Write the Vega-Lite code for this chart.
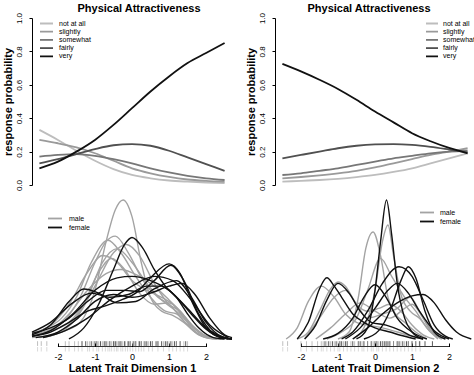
{
"$schema":"https://vega.github.io/schema/vega-lite/v6.json",
"padding":{"left":2,"top":2,"right":0,"bottom":0},
"config":{"font":"Liberation Sans","view":{"stroke":null},
 "axis":{"labelFont":"Liberation Sans","titleFont":"Liberation Sans","labelColor":"#000","titleColor":"#000","domainColor":"#000","tickColor":"#000","grid":false,"labelFlush":false,"labelOverlap":false},
 "title":{"font":"Liberation Sans","fontSize":11,"fontWeight":"bold","color":"#000"},
 "legend":{"labelFont":"Liberation Sans","labelColor":"#000","padding":0}},
"datasets":{
"prob":[
{"dim":1,"category":"not at all","x":-2.5,"p":0.33},{"dim":1,"category":"not at all","x":-2,"p":0.27},{"dim":1,"category":"not at all","x":-1.5,"p":0.205},{"dim":1,"category":"not at all","x":-1,"p":0.145},{"dim":1,"category":"not at all","x":-0.5,"p":0.095},{"dim":1,"category":"not at all","x":0,"p":0.06},{"dim":1,"category":"not at all","x":0.5,"p":0.04},{"dim":1,"category":"not at all","x":1,"p":0.027},{"dim":1,"category":"not at all","x":1.5,"p":0.02},{"dim":1,"category":"not at all","x":2,"p":0.015},{"dim":1,"category":"not at all","x":2.5,"p":0.012},
{"dim":1,"category":"slightly","x":-2.5,"p":0.27},{"dim":1,"category":"slightly","x":-2,"p":0.25},{"dim":1,"category":"slightly","x":-1.5,"p":0.225},{"dim":1,"category":"slightly","x":-1,"p":0.19},{"dim":1,"category":"slightly","x":-0.5,"p":0.145},{"dim":1,"category":"slightly","x":0,"p":0.1},{"dim":1,"category":"slightly","x":0.5,"p":0.07},{"dim":1,"category":"slightly","x":1,"p":0.048},{"dim":1,"category":"slightly","x":1.5,"p":0.033},{"dim":1,"category":"slightly","x":2,"p":0.025},{"dim":1,"category":"slightly","x":2.5,"p":0.02},
{"dim":1,"category":"somewhat","x":-2.5,"p":0.17},{"dim":1,"category":"somewhat","x":-2,"p":0.18},{"dim":1,"category":"somewhat","x":-1.5,"p":0.185},{"dim":1,"category":"somewhat","x":-1,"p":0.175},{"dim":1,"category":"somewhat","x":-0.5,"p":0.155},{"dim":1,"category":"somewhat","x":0,"p":0.13},{"dim":1,"category":"somewhat","x":0.5,"p":0.1},{"dim":1,"category":"somewhat","x":1,"p":0.075},{"dim":1,"category":"somewhat","x":1.5,"p":0.055},{"dim":1,"category":"somewhat","x":2,"p":0.04},{"dim":1,"category":"somewhat","x":2.5,"p":0.03},
{"dim":1,"category":"fairly","x":-2.5,"p":0.13},{"dim":1,"category":"fairly","x":-2,"p":0.155},{"dim":1,"category":"fairly","x":-1.5,"p":0.185},{"dim":1,"category":"fairly","x":-1,"p":0.215},{"dim":1,"category":"fairly","x":-0.5,"p":0.238},{"dim":1,"category":"fairly","x":0,"p":0.245},{"dim":1,"category":"fairly","x":0.5,"p":0.235},{"dim":1,"category":"fairly","x":1,"p":0.205},{"dim":1,"category":"fairly","x":1.5,"p":0.165},{"dim":1,"category":"fairly","x":2,"p":0.125},{"dim":1,"category":"fairly","x":2.5,"p":0.085},
{"dim":1,"category":"very","x":-2.5,"p":0.1},{"dim":1,"category":"very","x":-2,"p":0.14},{"dim":1,"category":"very","x":-1.5,"p":0.2},{"dim":1,"category":"very","x":-1,"p":0.27},{"dim":1,"category":"very","x":-0.5,"p":0.36},{"dim":1,"category":"very","x":0,"p":0.46},{"dim":1,"category":"very","x":0.5,"p":0.56},{"dim":1,"category":"very","x":1,"p":0.65},{"dim":1,"category":"very","x":1.5,"p":0.73},{"dim":1,"category":"very","x":2,"p":0.79},{"dim":1,"category":"very","x":2.5,"p":0.85},
{"dim":2,"category":"not at all","x":-2.5,"p":0.02},{"dim":2,"category":"not at all","x":-2,"p":0.025},{"dim":2,"category":"not at all","x":-1.5,"p":0.03},{"dim":2,"category":"not at all","x":-1,"p":0.037},{"dim":2,"category":"not at all","x":-0.5,"p":0.047},{"dim":2,"category":"not at all","x":0,"p":0.06},{"dim":2,"category":"not at all","x":0.5,"p":0.078},{"dim":2,"category":"not at all","x":1,"p":0.1},{"dim":2,"category":"not at all","x":1.5,"p":0.13},{"dim":2,"category":"not at all","x":2,"p":0.16},{"dim":2,"category":"not at all","x":2.5,"p":0.19},
{"dim":2,"category":"slightly","x":-2.5,"p":0.04},{"dim":2,"category":"slightly","x":-2,"p":0.048},{"dim":2,"category":"slightly","x":-1.5,"p":0.058},{"dim":2,"category":"slightly","x":-1,"p":0.07},{"dim":2,"category":"slightly","x":-0.5,"p":0.085},{"dim":2,"category":"slightly","x":0,"p":0.105},{"dim":2,"category":"slightly","x":0.5,"p":0.13},{"dim":2,"category":"slightly","x":1,"p":0.155},{"dim":2,"category":"slightly","x":1.5,"p":0.18},{"dim":2,"category":"slightly","x":2,"p":0.2},{"dim":2,"category":"slightly","x":2.5,"p":0.22},
{"dim":2,"category":"somewhat","x":-2.5,"p":0.06},{"dim":2,"category":"somewhat","x":-2,"p":0.07},{"dim":2,"category":"somewhat","x":-1.5,"p":0.085},{"dim":2,"category":"somewhat","x":-1,"p":0.1},{"dim":2,"category":"somewhat","x":-0.5,"p":0.12},{"dim":2,"category":"somewhat","x":0,"p":0.14},{"dim":2,"category":"somewhat","x":0.5,"p":0.16},{"dim":2,"category":"somewhat","x":1,"p":0.175},{"dim":2,"category":"somewhat","x":1.5,"p":0.19},{"dim":2,"category":"somewhat","x":2,"p":0.2},{"dim":2,"category":"somewhat","x":2.5,"p":0.205},
{"dim":2,"category":"fairly","x":-2.5,"p":0.16},{"dim":2,"category":"fairly","x":-2,"p":0.18},{"dim":2,"category":"fairly","x":-1.5,"p":0.2},{"dim":2,"category":"fairly","x":-1,"p":0.22},{"dim":2,"category":"fairly","x":-0.5,"p":0.235},{"dim":2,"category":"fairly","x":0,"p":0.243},{"dim":2,"category":"fairly","x":0.5,"p":0.245},{"dim":2,"category":"fairly","x":1,"p":0.24},{"dim":2,"category":"fairly","x":1.5,"p":0.228},{"dim":2,"category":"fairly","x":2,"p":0.212},{"dim":2,"category":"fairly","x":2.5,"p":0.195},
{"dim":2,"category":"very","x":-2.5,"p":0.725},{"dim":2,"category":"very","x":-2,"p":0.68},{"dim":2,"category":"very","x":-1.5,"p":0.63},{"dim":2,"category":"very","x":-1,"p":0.575},{"dim":2,"category":"very","x":-0.5,"p":0.51},{"dim":2,"category":"very","x":0,"p":0.44},{"dim":2,"category":"very","x":0.5,"p":0.375},{"dim":2,"category":"very","x":1,"p":0.31},{"dim":2,"category":"very","x":1.5,"p":0.262},{"dim":2,"category":"very","x":2,"p":0.222},{"dim":2,"category":"very","x":2.5,"p":0.19}
],
"dens":[
{"dim":1,"sex":"male","curve":"m1","x":-2.7,"y":0.01},{"dim":1,"sex":"male","curve":"m1","x":-2.2,"y":0.03},{"dim":1,"sex":"male","curve":"m1","x":-1.8,"y":0.06},{"dim":1,"sex":"male","curve":"m1","x":-1.4,"y":0.12},{"dim":1,"sex":"male","curve":"m1","x":-1.0,"y":0.35},{"dim":1,"sex":"male","curve":"m1","x":-0.7,"y":0.7},{"dim":1,"sex":"male","curve":"m1","x":-0.45,"y":0.93},{"dim":1,"sex":"male","curve":"m1","x":-0.24,"y":1.0},{"dim":1,"sex":"male","curve":"m1","x":0,"y":0.88},{"dim":1,"sex":"male","curve":"m1","x":0.25,"y":0.55},{"dim":1,"sex":"male","curve":"m1","x":0.5,"y":0.3},{"dim":1,"sex":"male","curve":"m1","x":0.8,"y":0.2},{"dim":1,"sex":"male","curve":"m1","x":1.1,"y":0.17},{"dim":1,"sex":"male","curve":"m1","x":1.4,"y":0.12},{"dim":1,"sex":"male","curve":"m1","x":1.8,"y":0.03},{"dim":1,"sex":"male","curve":"m1","x":2.2,"y":0},
{"dim":1,"sex":"male","curve":"m2","x":-2.7,"y":0.03},{"dim":1,"sex":"male","curve":"m2","x":-2.2,"y":0.07},{"dim":1,"sex":"male","curve":"m2","x":-1.8,"y":0.14},{"dim":1,"sex":"male","curve":"m2","x":-1.4,"y":0.3},{"dim":1,"sex":"male","curve":"m2","x":-1.0,"y":0.55},{"dim":1,"sex":"male","curve":"m2","x":-0.7,"y":0.7},{"dim":1,"sex":"male","curve":"m2","x":-0.45,"y":0.74},{"dim":1,"sex":"male","curve":"m2","x":-0.1,"y":0.62},{"dim":1,"sex":"male","curve":"m2","x":0.3,"y":0.42},{"dim":1,"sex":"male","curve":"m2","x":0.7,"y":0.3},{"dim":1,"sex":"male","curve":"m2","x":1.0,"y":0.25},{"dim":1,"sex":"male","curve":"m2","x":1.3,"y":0.16},{"dim":1,"sex":"male","curve":"m2","x":1.7,"y":0.05},{"dim":1,"sex":"male","curve":"m2","x":2.1,"y":0.01},{"dim":1,"sex":"male","curve":"m2","x":2.5,"y":0},
{"dim":1,"sex":"male","curve":"m3","x":-2.7,"y":0.04},{"dim":1,"sex":"male","curve":"m3","x":-2.3,"y":0.08},{"dim":1,"sex":"male","curve":"m3","x":-1.9,"y":0.15},{"dim":1,"sex":"male","curve":"m3","x":-1.5,"y":0.3},{"dim":1,"sex":"male","curve":"m3","x":-1.1,"y":0.55},{"dim":1,"sex":"male","curve":"m3","x":-0.65,"y":0.71},{"dim":1,"sex":"male","curve":"m3","x":-0.3,"y":0.62},{"dim":1,"sex":"male","curve":"m3","x":0.1,"y":0.45},{"dim":1,"sex":"male","curve":"m3","x":0.5,"y":0.3},{"dim":1,"sex":"male","curve":"m3","x":0.9,"y":0.2},{"dim":1,"sex":"male","curve":"m3","x":1.2,"y":0.18},{"dim":1,"sex":"male","curve":"m3","x":1.5,"y":0.1},{"dim":1,"sex":"male","curve":"m3","x":1.9,"y":0.02},{"dim":1,"sex":"male","curve":"m3","x":2.3,"y":0},
{"dim":1,"sex":"male","curve":"m4","x":-2.5,"y":0.01},{"dim":1,"sex":"male","curve":"m4","x":-2.0,"y":0.04},{"dim":1,"sex":"male","curve":"m4","x":-1.5,"y":0.15},{"dim":1,"sex":"male","curve":"m4","x":-1.0,"y":0.38},{"dim":1,"sex":"male","curve":"m4","x":-0.5,"y":0.62},{"dim":1,"sex":"male","curve":"m4","x":-0.15,"y":0.68},{"dim":1,"sex":"male","curve":"m4","x":0.2,"y":0.6},{"dim":1,"sex":"male","curve":"m4","x":0.6,"y":0.4},{"dim":1,"sex":"male","curve":"m4","x":1.0,"y":0.25},{"dim":1,"sex":"male","curve":"m4","x":1.3,"y":0.2},{"dim":1,"sex":"male","curve":"m4","x":1.6,"y":0.1},{"dim":1,"sex":"male","curve":"m4","x":2.0,"y":0.02},{"dim":1,"sex":"male","curve":"m4","x":2.4,"y":0},
{"dim":1,"sex":"male","curve":"m5","x":-2.7,"y":0.04},{"dim":1,"sex":"male","curve":"m5","x":-2.2,"y":0.1},{"dim":1,"sex":"male","curve":"m5","x":-1.7,"y":0.25},{"dim":1,"sex":"male","curve":"m5","x":-1.2,"y":0.48},{"dim":1,"sex":"male","curve":"m5","x":-0.8,"y":0.6},{"dim":1,"sex":"male","curve":"m5","x":-0.4,"y":0.55},{"dim":1,"sex":"male","curve":"m5","x":0,"y":0.42},{"dim":1,"sex":"male","curve":"m5","x":0.4,"y":0.35},{"dim":1,"sex":"male","curve":"m5","x":0.8,"y":0.3},{"dim":1,"sex":"male","curve":"m5","x":1.1,"y":0.25},{"dim":1,"sex":"male","curve":"m5","x":1.5,"y":0.12},{"dim":1,"sex":"male","curve":"m5","x":1.9,"y":0.03},{"dim":1,"sex":"male","curve":"m5","x":2.3,"y":0},
{"dim":1,"sex":"male","curve":"m6","x":-2.7,"y":0.02},{"dim":1,"sex":"male","curve":"m6","x":-2.2,"y":0.06},{"dim":1,"sex":"male","curve":"m6","x":-1.7,"y":0.18},{"dim":1,"sex":"male","curve":"m6","x":-1.2,"y":0.35},{"dim":1,"sex":"male","curve":"m6","x":-0.7,"y":0.47},{"dim":1,"sex":"male","curve":"m6","x":-0.3,"y":0.5},{"dim":1,"sex":"male","curve":"m6","x":0.2,"y":0.45},{"dim":1,"sex":"male","curve":"m6","x":0.6,"y":0.38},{"dim":1,"sex":"male","curve":"m6","x":1.0,"y":0.28},{"dim":1,"sex":"male","curve":"m6","x":1.3,"y":0.2},{"dim":1,"sex":"male","curve":"m6","x":1.7,"y":0.08},{"dim":1,"sex":"male","curve":"m6","x":2.1,"y":0.01},{"dim":1,"sex":"male","curve":"m6","x":2.4,"y":0},
{"dim":1,"sex":"male","curve":"m7","x":-2.4,"y":0.01},{"dim":1,"sex":"male","curve":"m7","x":-1.9,"y":0.06},{"dim":1,"sex":"male","curve":"m7","x":-1.4,"y":0.2},{"dim":1,"sex":"male","curve":"m7","x":-0.9,"y":0.48},{"dim":1,"sex":"male","curve":"m7","x":-0.55,"y":0.58},{"dim":1,"sex":"male","curve":"m7","x":-0.2,"y":0.5},{"dim":1,"sex":"male","curve":"m7","x":0.2,"y":0.33},{"dim":1,"sex":"male","curve":"m7","x":0.6,"y":0.25},{"dim":1,"sex":"male","curve":"m7","x":1.0,"y":0.26},{"dim":1,"sex":"male","curve":"m7","x":1.3,"y":0.2},{"dim":1,"sex":"male","curve":"m7","x":1.6,"y":0.08},{"dim":1,"sex":"male","curve":"m7","x":2.0,"y":0.01},{"dim":1,"sex":"male","curve":"m7","x":2.3,"y":0},
{"dim":1,"sex":"male","curve":"m8","x":-2.7,"y":0.03},{"dim":1,"sex":"male","curve":"m8","x":-2.2,"y":0.06},{"dim":1,"sex":"male","curve":"m8","x":-1.7,"y":0.12},{"dim":1,"sex":"male","curve":"m8","x":-1.2,"y":0.3},{"dim":1,"sex":"male","curve":"m8","x":-0.8,"y":0.55},{"dim":1,"sex":"male","curve":"m8","x":-0.4,"y":0.65},{"dim":1,"sex":"male","curve":"m8","x":0,"y":0.55},{"dim":1,"sex":"male","curve":"m8","x":0.4,"y":0.4},{"dim":1,"sex":"male","curve":"m8","x":0.8,"y":0.28},{"dim":1,"sex":"male","curve":"m8","x":1.2,"y":0.2},{"dim":1,"sex":"male","curve":"m8","x":1.6,"y":0.1},{"dim":1,"sex":"male","curve":"m8","x":2.0,"y":0.02},{"dim":1,"sex":"male","curve":"m8","x":2.4,"y":0},
{"dim":1,"sex":"female","curve":"f1","x":-1.7,"y":0},{"dim":1,"sex":"female","curve":"f1","x":-1.3,"y":0.08},{"dim":1,"sex":"female","curve":"f1","x":-0.9,"y":0.25},{"dim":1,"sex":"female","curve":"f1","x":-0.5,"y":0.5},{"dim":1,"sex":"female","curve":"f1","x":-0.2,"y":0.68},{"dim":1,"sex":"female","curve":"f1","x":0,"y":0.73},{"dim":1,"sex":"female","curve":"f1","x":0.3,"y":0.65},{"dim":1,"sex":"female","curve":"f1","x":0.6,"y":0.5},{"dim":1,"sex":"female","curve":"f1","x":0.9,"y":0.38},{"dim":1,"sex":"female","curve":"f1","x":1.2,"y":0.3},{"dim":1,"sex":"female","curve":"f1","x":1.5,"y":0.18},{"dim":1,"sex":"female","curve":"f1","x":1.8,"y":0.08},{"dim":1,"sex":"female","curve":"f1","x":2.2,"y":0.01},{"dim":1,"sex":"female","curve":"f1","x":2.5,"y":0},
{"dim":1,"sex":"female","curve":"f2","x":-2.7,"y":0.02},{"dim":1,"sex":"female","curve":"f2","x":-2.2,"y":0.05},{"dim":1,"sex":"female","curve":"f2","x":-1.7,"y":0.12},{"dim":1,"sex":"female","curve":"f2","x":-1.2,"y":0.2},{"dim":1,"sex":"female","curve":"f2","x":-0.7,"y":0.24},{"dim":1,"sex":"female","curve":"f2","x":-0.3,"y":0.28},{"dim":1,"sex":"female","curve":"f2","x":0.1,"y":0.33},{"dim":1,"sex":"female","curve":"f2","x":0.5,"y":0.44},{"dim":1,"sex":"female","curve":"f2","x":1.0,"y":0.54},{"dim":1,"sex":"female","curve":"f2","x":1.3,"y":0.47},{"dim":1,"sex":"female","curve":"f2","x":1.6,"y":0.28},{"dim":1,"sex":"female","curve":"f2","x":2.0,"y":0.08},{"dim":1,"sex":"female","curve":"f2","x":2.4,"y":0.01},{"dim":1,"sex":"female","curve":"f2","x":2.7,"y":0},
{"dim":1,"sex":"female","curve":"f3","x":-2.7,"y":0.04},{"dim":1,"sex":"female","curve":"f3","x":-2.2,"y":0.08},{"dim":1,"sex":"female","curve":"f3","x":-1.7,"y":0.15},{"dim":1,"sex":"female","curve":"f3","x":-1.2,"y":0.27},{"dim":1,"sex":"female","curve":"f3","x":-0.7,"y":0.35},{"dim":1,"sex":"female","curve":"f3","x":-0.2,"y":0.35},{"dim":1,"sex":"female","curve":"f3","x":0.2,"y":0.34},{"dim":1,"sex":"female","curve":"f3","x":0.6,"y":0.42},{"dim":1,"sex":"female","curve":"f3","x":1.05,"y":0.53},{"dim":1,"sex":"female","curve":"f3","x":1.4,"y":0.42},{"dim":1,"sex":"female","curve":"f3","x":1.8,"y":0.18},{"dim":1,"sex":"female","curve":"f3","x":2.2,"y":0.04},{"dim":1,"sex":"female","curve":"f3","x":2.6,"y":0},
{"dim":1,"sex":"female","curve":"f4","x":-2.7,"y":0.03},{"dim":1,"sex":"female","curve":"f4","x":-2.2,"y":0.1},{"dim":1,"sex":"female","curve":"f4","x":-1.7,"y":0.27},{"dim":1,"sex":"female","curve":"f4","x":-1.3,"y":0.36},{"dim":1,"sex":"female","curve":"f4","x":-0.9,"y":0.33},{"dim":1,"sex":"female","curve":"f4","x":-0.4,"y":0.26},{"dim":1,"sex":"female","curve":"f4","x":0.1,"y":0.27},{"dim":1,"sex":"female","curve":"f4","x":0.6,"y":0.36},{"dim":1,"sex":"female","curve":"f4","x":1.2,"y":0.42},{"dim":1,"sex":"female","curve":"f4","x":1.6,"y":0.3},{"dim":1,"sex":"female","curve":"f4","x":2.0,"y":0.12},{"dim":1,"sex":"female","curve":"f4","x":2.4,"y":0.02},{"dim":1,"sex":"female","curve":"f4","x":2.7,"y":0},
{"dim":1,"sex":"female","curve":"f5","x":-2.7,"y":0.02},{"dim":1,"sex":"female","curve":"f5","x":-2.2,"y":0.06},{"dim":1,"sex":"female","curve":"f5","x":-1.6,"y":0.18},{"dim":1,"sex":"female","curve":"f5","x":-1.0,"y":0.35},{"dim":1,"sex":"female","curve":"f5","x":-0.4,"y":0.44},{"dim":1,"sex":"female","curve":"f5","x":0,"y":0.45},{"dim":1,"sex":"female","curve":"f5","x":0.5,"y":0.42},{"dim":1,"sex":"female","curve":"f5","x":1.0,"y":0.35},{"dim":1,"sex":"female","curve":"f5","x":1.5,"y":0.22},{"dim":1,"sex":"female","curve":"f5","x":2.0,"y":0.08},{"dim":1,"sex":"female","curve":"f5","x":2.5,"y":0.01},{"dim":1,"sex":"female","curve":"f5","x":2.7,"y":0},
{"dim":1,"sex":"female","curve":"f6","x":-2.6,"y":0.01},{"dim":1,"sex":"female","curve":"f6","x":-2.0,"y":0.05},{"dim":1,"sex":"female","curve":"f6","x":-1.5,"y":0.14},{"dim":1,"sex":"female","curve":"f6","x":-1.0,"y":0.27},{"dim":1,"sex":"female","curve":"f6","x":-0.5,"y":0.32},{"dim":1,"sex":"female","curve":"f6","x":0,"y":0.3},{"dim":1,"sex":"female","curve":"f6","x":0.5,"y":0.33},{"dim":1,"sex":"female","curve":"f6","x":1.0,"y":0.38},{"dim":1,"sex":"female","curve":"f6","x":1.35,"y":0.4},{"dim":1,"sex":"female","curve":"f6","x":1.7,"y":0.32},{"dim":1,"sex":"female","curve":"f6","x":2.1,"y":0.15},{"dim":1,"sex":"female","curve":"f6","x":2.5,"y":0.03},{"dim":1,"sex":"female","curve":"f6","x":2.7,"y":0.01},
{"dim":1,"sex":"female","curve":"f7","x":-2.7,"y":0.05},{"dim":1,"sex":"female","curve":"f7","x":-2.2,"y":0.12},{"dim":1,"sex":"female","curve":"f7","x":-1.6,"y":0.26},{"dim":1,"sex":"female","curve":"f7","x":-1.1,"y":0.33},{"dim":1,"sex":"female","curve":"f7","x":-0.6,"y":0.3},{"dim":1,"sex":"female","curve":"f7","x":-0.1,"y":0.32},{"dim":1,"sex":"female","curve":"f7","x":0.4,"y":0.38},{"dim":1,"sex":"female","curve":"f7","x":0.8,"y":0.38},{"dim":1,"sex":"female","curve":"f7","x":1.2,"y":0.3},{"dim":1,"sex":"female","curve":"f7","x":1.6,"y":0.18},{"dim":1,"sex":"female","curve":"f7","x":2.0,"y":0.07},{"dim":1,"sex":"female","curve":"f7","x":2.4,"y":0.01},{"dim":1,"sex":"female","curve":"f7","x":2.7,"y":0},
{"dim":1,"sex":"female","curve":"f8","x":-2.4,"y":0.01},{"dim":1,"sex":"female","curve":"f8","x":-1.8,"y":0.06},{"dim":1,"sex":"female","curve":"f8","x":-1.2,"y":0.15},{"dim":1,"sex":"female","curve":"f8","x":-0.6,"y":0.28},{"dim":1,"sex":"female","curve":"f8","x":0,"y":0.38},{"dim":1,"sex":"female","curve":"f8","x":0.6,"y":0.45},{"dim":1,"sex":"female","curve":"f8","x":1.1,"y":0.42},{"dim":1,"sex":"female","curve":"f8","x":1.6,"y":0.28},{"dim":1,"sex":"female","curve":"f8","x":2.1,"y":0.1},{"dim":1,"sex":"female","curve":"f8","x":2.6,"y":0.01},
{"dim":2,"sex":"male","curve":"m1","x":-1.0,"y":0},{"dim":2,"sex":"male","curve":"m1","x":-0.7,"y":0.05},{"dim":2,"sex":"male","curve":"m1","x":-0.45,"y":0.3},{"dim":2,"sex":"male","curve":"m1","x":-0.25,"y":0.65},{"dim":2,"sex":"male","curve":"m1","x":-0.05,"y":0.77},{"dim":2,"sex":"male","curve":"m1","x":0.15,"y":0.6},{"dim":2,"sex":"male","curve":"m1","x":0.35,"y":0.3},{"dim":2,"sex":"male","curve":"m1","x":0.55,"y":0.18},{"dim":2,"sex":"male","curve":"m1","x":0.8,"y":0.12},{"dim":2,"sex":"male","curve":"m1","x":1.1,"y":0.05},{"dim":2,"sex":"male","curve":"m1","x":1.4,"y":0},
{"dim":2,"sex":"male","curve":"m2","x":-0.6,"y":0},{"dim":2,"sex":"male","curve":"m2","x":-0.3,"y":0.08},{"dim":2,"sex":"male","curve":"m2","x":0,"y":0.35},{"dim":2,"sex":"male","curve":"m2","x":0.2,"y":0.7},{"dim":2,"sex":"male","curve":"m2","x":0.35,"y":0.82},{"dim":2,"sex":"male","curve":"m2","x":0.5,"y":0.6},{"dim":2,"sex":"male","curve":"m2","x":0.7,"y":0.32},{"dim":2,"sex":"male","curve":"m2","x":0.95,"y":0.2},{"dim":2,"sex":"male","curve":"m2","x":1.2,"y":0.15},{"dim":2,"sex":"male","curve":"m2","x":1.5,"y":0.05},{"dim":2,"sex":"male","curve":"m2","x":1.8,"y":0},
{"dim":2,"sex":"male","curve":"m3","x":-2.4,"y":0},{"dim":2,"sex":"male","curve":"m3","x":-2.1,"y":0.08},{"dim":2,"sex":"male","curve":"m3","x":-1.8,"y":0.27},{"dim":2,"sex":"male","curve":"m3","x":-1.45,"y":0.38},{"dim":2,"sex":"male","curve":"m3","x":-1.1,"y":0.3},{"dim":2,"sex":"male","curve":"m3","x":-0.8,"y":0.18},{"dim":2,"sex":"male","curve":"m3","x":-0.5,"y":0.12},{"dim":2,"sex":"male","curve":"m3","x":-0.2,"y":0.1},{"dim":2,"sex":"male","curve":"m3","x":0.2,"y":0.08},{"dim":2,"sex":"male","curve":"m3","x":0.6,"y":0.05},{"dim":2,"sex":"male","curve":"m3","x":1.0,"y":0.02},{"dim":2,"sex":"male","curve":"m3","x":1.3,"y":0},
{"dim":2,"sex":"male","curve":"m4","x":-2.1,"y":0},{"dim":2,"sex":"male","curve":"m4","x":-1.8,"y":0.05},{"dim":2,"sex":"male","curve":"m4","x":-1.5,"y":0.2},{"dim":2,"sex":"male","curve":"m4","x":-1.2,"y":0.36},{"dim":2,"sex":"male","curve":"m4","x":-1.0,"y":0.41},{"dim":2,"sex":"male","curve":"m4","x":-0.8,"y":0.38},{"dim":2,"sex":"male","curve":"m4","x":-0.5,"y":0.25},{"dim":2,"sex":"male","curve":"m4","x":-0.2,"y":0.2},{"dim":2,"sex":"male","curve":"m4","x":0.1,"y":0.22},{"dim":2,"sex":"male","curve":"m4","x":0.4,"y":0.25},{"dim":2,"sex":"male","curve":"m4","x":0.7,"y":0.2},{"dim":2,"sex":"male","curve":"m4","x":1.0,"y":0.1},{"dim":2,"sex":"male","curve":"m4","x":1.3,"y":0.03},{"dim":2,"sex":"male","curve":"m4","x":1.6,"y":0},
{"dim":2,"sex":"male","curve":"m5","x":-1.3,"y":0},{"dim":2,"sex":"male","curve":"m5","x":-0.9,"y":0.05},{"dim":2,"sex":"male","curve":"m5","x":-0.5,"y":0.15},{"dim":2,"sex":"male","curve":"m5","x":-0.2,"y":0.35},{"dim":2,"sex":"male","curve":"m5","x":0.15,"y":0.58},{"dim":2,"sex":"male","curve":"m5","x":0.45,"y":0.45},{"dim":2,"sex":"male","curve":"m5","x":0.8,"y":0.3},{"dim":2,"sex":"male","curve":"m5","x":1.1,"y":0.2},{"dim":2,"sex":"male","curve":"m5","x":1.4,"y":0.08},{"dim":2,"sex":"male","curve":"m5","x":1.7,"y":0},
{"dim":2,"sex":"male","curve":"m6","x":-1.9,"y":0},{"dim":2,"sex":"male","curve":"m6","x":-1.5,"y":0.15},{"dim":2,"sex":"male","curve":"m6","x":-1.1,"y":0.3},{"dim":2,"sex":"male","curve":"m6","x":-0.8,"y":0.35},{"dim":2,"sex":"male","curve":"m6","x":-0.5,"y":0.25},{"dim":2,"sex":"male","curve":"m6","x":-0.2,"y":0.15},{"dim":2,"sex":"male","curve":"m6","x":0.2,"y":0.18},{"dim":2,"sex":"male","curve":"m6","x":0.6,"y":0.22},{"dim":2,"sex":"male","curve":"m6","x":0.95,"y":0.3},{"dim":2,"sex":"male","curve":"m6","x":1.2,"y":0.2},{"dim":2,"sex":"male","curve":"m6","x":1.5,"y":0.06},{"dim":2,"sex":"male","curve":"m6","x":1.8,"y":0},
{"dim":2,"sex":"male","curve":"m7","x":-1.6,"y":0},{"dim":2,"sex":"male","curve":"m7","x":-1.2,"y":0.08},{"dim":2,"sex":"male","curve":"m7","x":-0.8,"y":0.18},{"dim":2,"sex":"male","curve":"m7","x":-0.4,"y":0.26},{"dim":2,"sex":"male","curve":"m7","x":0,"y":0.2},{"dim":2,"sex":"male","curve":"m7","x":0.4,"y":0.15},{"dim":2,"sex":"male","curve":"m7","x":0.8,"y":0.22},{"dim":2,"sex":"male","curve":"m7","x":1.0,"y":0.25},{"dim":2,"sex":"male","curve":"m7","x":1.3,"y":0.15},{"dim":2,"sex":"male","curve":"m7","x":1.6,"y":0.04},{"dim":2,"sex":"male","curve":"m7","x":1.9,"y":0},
{"dim":2,"sex":"female","curve":"f1","x":-0.5,"y":0},{"dim":2,"sex":"female","curve":"f1","x":-0.2,"y":0.08},{"dim":2,"sex":"female","curve":"f1","x":0,"y":0.35},{"dim":2,"sex":"female","curve":"f1","x":0.15,"y":0.7},{"dim":2,"sex":"female","curve":"f1","x":0.31,"y":1.0},{"dim":2,"sex":"female","curve":"f1","x":0.45,"y":0.75},{"dim":2,"sex":"female","curve":"f1","x":0.6,"y":0.4},{"dim":2,"sex":"female","curve":"f1","x":0.8,"y":0.15},{"dim":2,"sex":"female","curve":"f1","x":1.0,"y":0.05},{"dim":2,"sex":"female","curve":"f1","x":1.3,"y":0},
{"dim":2,"sex":"female","curve":"f2","x":-2.1,"y":0},{"dim":2,"sex":"female","curve":"f2","x":-1.8,"y":0.12},{"dim":2,"sex":"female","curve":"f2","x":-1.5,"y":0.36},{"dim":2,"sex":"female","curve":"f2","x":-1.3,"y":0.44},{"dim":2,"sex":"female","curve":"f2","x":-1.1,"y":0.38},{"dim":2,"sex":"female","curve":"f2","x":-0.9,"y":0.3},{"dim":2,"sex":"female","curve":"f2","x":-0.6,"y":0.18},{"dim":2,"sex":"female","curve":"f2","x":-0.3,"y":0.12},{"dim":2,"sex":"female","curve":"f2","x":0,"y":0.08},{"dim":2,"sex":"female","curve":"f2","x":0.4,"y":0.05},{"dim":2,"sex":"female","curve":"f2","x":0.8,"y":0.02},{"dim":2,"sex":"female","curve":"f2","x":1.1,"y":0},
{"dim":2,"sex":"female","curve":"f3","x":-1.9,"y":0},{"dim":2,"sex":"female","curve":"f3","x":-1.6,"y":0.1},{"dim":2,"sex":"female","curve":"f3","x":-1.3,"y":0.28},{"dim":2,"sex":"female","curve":"f3","x":-1.0,"y":0.4},{"dim":2,"sex":"female","curve":"f3","x":-0.7,"y":0.33},{"dim":2,"sex":"female","curve":"f3","x":-0.4,"y":0.2},{"dim":2,"sex":"female","curve":"f3","x":-0.1,"y":0.12},{"dim":2,"sex":"female","curve":"f3","x":0.3,"y":0.1},{"dim":2,"sex":"female","curve":"f3","x":0.7,"y":0.06},{"dim":2,"sex":"female","curve":"f3","x":1.0,"y":0.02},{"dim":2,"sex":"female","curve":"f3","x":1.3,"y":0},
{"dim":2,"sex":"female","curve":"f4","x":-0.9,"y":0},{"dim":2,"sex":"female","curve":"f4","x":-0.6,"y":0.05},{"dim":2,"sex":"female","curve":"f4","x":-0.2,"y":0.2},{"dim":2,"sex":"female","curve":"f4","x":0.2,"y":0.4},{"dim":2,"sex":"female","curve":"f4","x":0.65,"y":0.52},{"dim":2,"sex":"female","curve":"f4","x":1.0,"y":0.45},{"dim":2,"sex":"female","curve":"f4","x":1.3,"y":0.28},{"dim":2,"sex":"female","curve":"f4","x":1.6,"y":0.1},{"dim":2,"sex":"female","curve":"f4","x":1.9,"y":0.02},{"dim":2,"sex":"female","curve":"f4","x":2.1,"y":0},
{"dim":2,"sex":"female","curve":"f5","x":-0.3,"y":0},{"dim":2,"sex":"female","curve":"f5","x":0.1,"y":0.06},{"dim":2,"sex":"female","curve":"f5","x":0.4,"y":0.2},{"dim":2,"sex":"female","curve":"f5","x":0.7,"y":0.42},{"dim":2,"sex":"female","curve":"f5","x":0.9,"y":0.52},{"dim":2,"sex":"female","curve":"f5","x":1.1,"y":0.44},{"dim":2,"sex":"female","curve":"f5","x":1.35,"y":0.2},{"dim":2,"sex":"female","curve":"f5","x":1.6,"y":0.05},{"dim":2,"sex":"female","curve":"f5","x":1.9,"y":0},
{"dim":2,"sex":"female","curve":"f6","x":-0.8,"y":0},{"dim":2,"sex":"female","curve":"f6","x":-0.4,"y":0.08},{"dim":2,"sex":"female","curve":"f6","x":0,"y":0.22},{"dim":2,"sex":"female","curve":"f6","x":0.35,"y":0.35},{"dim":2,"sex":"female","curve":"f6","x":0.6,"y":0.4},{"dim":2,"sex":"female","curve":"f6","x":0.9,"y":0.33},{"dim":2,"sex":"female","curve":"f6","x":1.2,"y":0.2},{"dim":2,"sex":"female","curve":"f6","x":1.6,"y":0.06},{"dim":2,"sex":"female","curve":"f6","x":2.0,"y":0},
{"dim":2,"sex":"female","curve":"f7","x":-0.6,"y":0},{"dim":2,"sex":"female","curve":"f7","x":-0.2,"y":0.08},{"dim":2,"sex":"female","curve":"f7","x":0.2,"y":0.18},{"dim":2,"sex":"female","curve":"f7","x":0.6,"y":0.26},{"dim":2,"sex":"female","curve":"f7","x":1.0,"y":0.31},{"dim":2,"sex":"female","curve":"f7","x":1.3,"y":0.32},{"dim":2,"sex":"female","curve":"f7","x":1.6,"y":0.26},{"dim":2,"sex":"female","curve":"f7","x":1.9,"y":0.14},{"dim":2,"sex":"female","curve":"f7","x":2.2,"y":0.05},{"dim":2,"sex":"female","curve":"f7","x":2.6,"y":0},
{"dim":2,"sex":"female","curve":"f8","x":-1.4,"y":0},{"dim":2,"sex":"female","curve":"f8","x":-1.0,"y":0.04},{"dim":2,"sex":"female","curve":"f8","x":-0.6,"y":0.15},{"dim":2,"sex":"female","curve":"f8","x":-0.3,"y":0.3},{"dim":2,"sex":"female","curve":"f8","x":0,"y":0.39},{"dim":2,"sex":"female","curve":"f8","x":0.3,"y":0.3},{"dim":2,"sex":"female","curve":"f8","x":0.6,"y":0.15},{"dim":2,"sex":"female","curve":"f8","x":1.0,"y":0.05},{"dim":2,"sex":"female","curve":"f8","x":1.4,"y":0}
],
"rug":[
{"dim":1,"sex":"female","x":-1.35},{"dim":1,"sex":"female","x":-1.25},{"dim":1,"sex":"female","x":-1.1},{"dim":1,"sex":"female","x":-1.0},{"dim":1,"sex":"female","x":-0.95},{"dim":1,"sex":"female","x":-0.85},{"dim":1,"sex":"female","x":-0.75},{"dim":1,"sex":"female","x":-0.7},{"dim":1,"sex":"female","x":-0.6},{"dim":1,"sex":"female","x":-0.5},{"dim":1,"sex":"female","x":-0.45},{"dim":1,"sex":"female","x":-0.35},{"dim":1,"sex":"female","x":-0.3},{"dim":1,"sex":"female","x":-0.2},{"dim":1,"sex":"female","x":-0.1},{"dim":1,"sex":"female","x":-0.05},{"dim":1,"sex":"female","x":0.05},{"dim":1,"sex":"female","x":0.1},{"dim":1,"sex":"female","x":0.2},{"dim":1,"sex":"female","x":0.25},{"dim":1,"sex":"female","x":0.35},{"dim":1,"sex":"female","x":0.4},{"dim":1,"sex":"female","x":0.5},{"dim":1,"sex":"female","x":0.55},{"dim":1,"sex":"female","x":0.65},{"dim":1,"sex":"female","x":0.7},{"dim":1,"sex":"female","x":0.8},{"dim":1,"sex":"female","x":0.9},{"dim":1,"sex":"female","x":0.95},{"dim":1,"sex":"female","x":1.05},{"dim":1,"sex":"female","x":1.15},{"dim":1,"sex":"female","x":1.2},{"dim":1,"sex":"female","x":1.3},{"dim":1,"sex":"female","x":1.45},
{"dim":1,"sex":"male","x":-2.55},{"dim":1,"sex":"male","x":-2.45},{"dim":1,"sex":"male","x":-2.3},{"dim":1,"sex":"male","x":-1.8},{"dim":1,"sex":"male","x":-1.7},{"dim":1,"sex":"male","x":-1.55},{"dim":1,"sex":"male","x":-1.45},{"dim":1,"sex":"male","x":-1.35},{"dim":1,"sex":"male","x":-1.2},{"dim":1,"sex":"male","x":-1.15},{"dim":1,"sex":"male","x":-1.05},{"dim":1,"sex":"male","x":-0.95},{"dim":1,"sex":"male","x":-0.9},{"dim":1,"sex":"male","x":-0.8},{"dim":1,"sex":"male","x":-0.72},{"dim":1,"sex":"male","x":-0.65},{"dim":1,"sex":"male","x":-0.6},{"dim":1,"sex":"male","x":-0.55},{"dim":1,"sex":"male","x":-0.48},{"dim":1,"sex":"male","x":-0.42},{"dim":1,"sex":"male","x":-0.38},{"dim":1,"sex":"male","x":-0.3},{"dim":1,"sex":"male","x":-0.25},{"dim":1,"sex":"male","x":-0.18},{"dim":1,"sex":"male","x":-0.12},{"dim":1,"sex":"male","x":-0.05},{"dim":1,"sex":"male","x":0.02},{"dim":1,"sex":"male","x":0.1},{"dim":1,"sex":"male","x":0.18},{"dim":1,"sex":"male","x":0.25},{"dim":1,"sex":"male","x":0.32},{"dim":1,"sex":"male","x":0.45},{"dim":1,"sex":"male","x":0.55},{"dim":1,"sex":"male","x":0.7},{"dim":1,"sex":"male","x":0.85},{"dim":1,"sex":"male","x":1.0},{"dim":1,"sex":"male","x":1.1},{"dim":1,"sex":"male","x":1.2},{"dim":1,"sex":"male","x":1.3},{"dim":1,"sex":"male","x":1.4},{"dim":1,"sex":"male","x":1.5},
{"dim":2,"sex":"female","x":-1.35},{"dim":2,"sex":"female","x":-1.25},{"dim":2,"sex":"female","x":-1.15},{"dim":2,"sex":"female","x":-1.05},{"dim":2,"sex":"female","x":-0.95},{"dim":2,"sex":"female","x":-0.9},{"dim":2,"sex":"female","x":-0.8},{"dim":2,"sex":"female","x":-0.75},{"dim":2,"sex":"female","x":-0.6},{"dim":2,"sex":"female","x":-0.45},{"dim":2,"sex":"female","x":-0.4},{"dim":2,"sex":"female","x":-0.3},{"dim":2,"sex":"female","x":-0.2},{"dim":2,"sex":"female","x":-0.1},{"dim":2,"sex":"female","x":0},{"dim":2,"sex":"female","x":0.05},{"dim":2,"sex":"female","x":0.15},{"dim":2,"sex":"female","x":0.2},{"dim":2,"sex":"female","x":0.25},{"dim":2,"sex":"female","x":0.3},{"dim":2,"sex":"female","x":0.35},{"dim":2,"sex":"female","x":0.4},{"dim":2,"sex":"female","x":0.5},{"dim":2,"sex":"female","x":0.6},{"dim":2,"sex":"female","x":0.65},{"dim":2,"sex":"female","x":0.75},{"dim":2,"sex":"female","x":0.85},{"dim":2,"sex":"female","x":0.9},{"dim":2,"sex":"female","x":1.0},{"dim":2,"sex":"female","x":1.1},{"dim":2,"sex":"female","x":1.2},{"dim":2,"sex":"female","x":1.35},{"dim":2,"sex":"female","x":1.55},
{"dim":2,"sex":"male","x":-2.49},{"dim":2,"sex":"male","x":-2.36},{"dim":2,"sex":"male","x":-2.0},{"dim":2,"sex":"male","x":-1.85},{"dim":2,"sex":"male","x":-1.7},{"dim":2,"sex":"male","x":-1.55},{"dim":2,"sex":"male","x":-1.45},{"dim":2,"sex":"male","x":-1.4},{"dim":2,"sex":"male","x":-1.3},{"dim":2,"sex":"male","x":-1.2},{"dim":2,"sex":"male","x":-1.1},{"dim":2,"sex":"male","x":-1.0},{"dim":2,"sex":"male","x":-0.95},{"dim":2,"sex":"male","x":-0.85},{"dim":2,"sex":"male","x":-0.75},{"dim":2,"sex":"male","x":-0.65},{"dim":2,"sex":"male","x":-0.55},{"dim":2,"sex":"male","x":-0.45},{"dim":2,"sex":"male","x":-0.35},{"dim":2,"sex":"male","x":-0.3},{"dim":2,"sex":"male","x":-0.2},{"dim":2,"sex":"male","x":-0.1},{"dim":2,"sex":"male","x":-0.05},{"dim":2,"sex":"male","x":0.05},{"dim":2,"sex":"male","x":0.1},{"dim":2,"sex":"male","x":0.2},{"dim":2,"sex":"male","x":0.3},{"dim":2,"sex":"male","x":0.4},{"dim":2,"sex":"male","x":0.5},{"dim":2,"sex":"male","x":0.6},{"dim":2,"sex":"male","x":0.7},{"dim":2,"sex":"male","x":0.8},{"dim":2,"sex":"male","x":0.9},{"dim":2,"sex":"male","x":1.0},{"dim":2,"sex":"male","x":1.1},{"dim":2,"sex":"male","x":1.22}
]
},
"hconcat":[
{"vconcat":[
 {"title":{"text":"Physical Attractiveness","frame":"group","dx":7,"offset":-1.5},
  "width":200,"height":167,
  "data":{"name":"prob"},"transform":[{"filter":"datum.dim == 1"}],
  "mark":{"type":"line","strokeWidth":1.8,"interpolate":"monotone"},
  "encoding":{
   "x":{"field":"x","type":"quantitative","scale":{"domain":[-2.7,2.7],"nice":false,"zero":false},"axis":null},
   "y":{"field":"p","type":"quantitative","scale":{"domain":[0,1],"nice":false},"axis":{"title":"response probability","values":[0,0.2,0.4,0.6,0.8,1],"format":".1f","labelAngle":-90,"labelAlign":"center","labelBaseline":"bottom","labelFontSize":8,"tickSize":3,"labelPadding":5.5,"titleFontSize":11,"titleFontWeight":"bold","titlePadding":2}},
   "color":{"field":"category","type":"nominal","scale":{"domain":["not at all","slightly","somewhat","fairly","very"],"range":["#bdbdbd","#9a9a9a","#777777","#505050","#111111"]},
    "legend":{"orient":"none","legendX":7,"legendY":1.5,"title":null,"symbolType":"stroke","symbolSize":169,"symbolStrokeWidth":1.8,"labelFontSize":7,"labelOffset":5,"clipHeight":8,"rowPadding":0.2}}
  }},
 {"width":200,"height":153.5,
  "layer":[
   {"data":{"name":"dens"},"transform":[{"filter":"datum.dim == 1 && datum.sex == 'male'"}],
    "mark":{"type":"line","strokeWidth":1.4,"interpolate":"monotone"},
    "encoding":{
     "x":{"field":"x","type":"quantitative","scale":{"domain":[-2.7,2.7],"nice":false,"zero":false},
      "axis":{"values":[-2,-1,0,1,2],"labelExpr":"'' + datum.value","domain":false,"tickSize":-3.5,"labelPadding":9.5,"labelFontSize":9,"title":"Latent Trait Dimension 1","titleFontSize":11,"titleFontWeight":"bold","titlePadding":1}},
     "y":{"field":"y","type":"quantitative","scale":{"domain":[-0.054,1.05],"nice":false,"zero":false},"axis":null},
     "detail":{"field":"curve"},
     "color":{"field":"sex","type":"nominal","scale":{"domain":["male","female"],"range":["#a3a3a3","#111111"]},
      "legend":{"orient":"none","legendX":15,"legendY":21,"title":null,"symbolType":"stroke","symbolSize":196,"symbolStrokeWidth":1.8,"labelFontSize":7,"labelOffset":6,"clipHeight":9,"rowPadding":0}}
    }},
   {"data":{"name":"dens"},"transform":[{"filter":"datum.dim == 1 && datum.sex == 'female'"}],
    "mark":{"type":"line","strokeWidth":1.4,"interpolate":"monotone"},
    "encoding":{
     "x":{"field":"x","type":"quantitative"},
     "y":{"field":"y","type":"quantitative"},
     "detail":{"field":"curve"},
     "color":{"field":"sex","type":"nominal"}
    }},
   {"data":{"name":"rug"},"transform":[{"filter":"datum.dim == 1"}],
    "mark":{"type":"rule","strokeWidth":0.7},
    "encoding":{"x":{"field":"x","type":"quantitative"},"y":{"datum":-0.016},"y2":{"datum":-0.05},"color":{"field":"sex","type":"nominal"}}},
   {"data":{"name":"rug"},"transform":[{"filter":"datum.dim == 1 && datum.sex == 'male'"}],
    "mark":{"type":"rule","strokeWidth":0.7,"color":"#c8c8c8"},
    "encoding":{"x":{"field":"x","type":"quantitative"},"y":{"datum":-0.058},"y2":{"datum":-0.09}}},
   {"data":{"values":[{}]},
    "mark":{"type":"rule","color":"#000","strokeWidth":0.8},
    "encoding":{"x":{"datum":-2},"x2":{"datum":2},"y":{"datum":-0.054}}}
  ]}
 ],"spacing":8,"bounds":"flush","resolve":{"scale":{"color":"independent"},"legend":{"color":"independent"}}},
{"vconcat":[
 {"title":{"text":"Physical Attractiveness","frame":"group","dx":-6,"offset":-1.5},
  "width":200,"height":167,
  "data":{"name":"prob"},"transform":[{"filter":"datum.dim == 2"}],
  "mark":{"type":"line","strokeWidth":1.8,"interpolate":"monotone"},
  "encoding":{
   "x":{"field":"x","type":"quantitative","scale":{"domain":[-2.7,2.7],"nice":false,"zero":false},"axis":null},
   "y":{"field":"p","type":"quantitative","scale":{"domain":[0,1],"nice":false},"axis":{"title":"response probability","values":[0,0.2,0.4,0.6,0.8,1],"format":".1f","labelAngle":-90,"labelAlign":"center","labelBaseline":"bottom","labelFontSize":8,"tickSize":3,"labelPadding":5.5,"titleFontSize":11,"titleFontWeight":"bold","titlePadding":2}},
   "color":{"field":"category","type":"nominal","scale":{"domain":["not at all","slightly","somewhat","fairly","very"],"range":["#bdbdbd","#9a9a9a","#777777","#505050","#111111"]},
    "legend":{"orient":"none","legendX":150,"legendY":1.5,"title":null,"symbolType":"stroke","symbolSize":144,"symbolStrokeWidth":1.8,"labelFontSize":7,"labelOffset":4,"clipHeight":8,"rowPadding":0.2}}
  }},
 {"width":200,"height":153.5,
  "layer":[
   {"data":{"name":"dens"},"transform":[{"filter":"datum.dim == 2 && datum.sex == 'male'"}],
    "mark":{"type":"line","strokeWidth":1.4,"interpolate":"monotone"},
    "encoding":{
     "x":{"field":"x","type":"quantitative","scale":{"domain":[-2.7,2.7],"nice":false,"zero":false},
      "axis":{"values":[-2,-1,0,1,2],"labelExpr":"'' + datum.value","domain":false,"tickSize":-3.5,"labelPadding":9.5,"labelFontSize":9,"title":"Latent Trait Dimension 2","titleFontSize":11,"titleFontWeight":"bold","titlePadding":1}},
     "y":{"field":"y","type":"quantitative","scale":{"domain":[-0.054,1.05],"nice":false,"zero":false},"axis":null},
     "detail":{"field":"curve"},
     "color":{"field":"sex","type":"nominal","scale":{"domain":["male","female"],"range":["#a3a3a3","#111111"]},
      "legend":{"orient":"none","legendX":144,"legendY":15,"title":null,"symbolType":"stroke","symbolSize":196,"symbolStrokeWidth":1.8,"labelFontSize":7,"labelOffset":5,"clipHeight":9,"rowPadding":0}}
    }},
   {"data":{"name":"dens"},"transform":[{"filter":"datum.dim == 2 && datum.sex == 'female'"}],
    "mark":{"type":"line","strokeWidth":1.4,"interpolate":"monotone"},
    "encoding":{
     "x":{"field":"x","type":"quantitative"},
     "y":{"field":"y","type":"quantitative"},
     "detail":{"field":"curve"},
     "color":{"field":"sex","type":"nominal"}
    }},
   {"data":{"name":"rug"},"transform":[{"filter":"datum.dim == 2"}],
    "mark":{"type":"rule","strokeWidth":0.7},
    "encoding":{"x":{"field":"x","type":"quantitative"},"y":{"datum":-0.016},"y2":{"datum":-0.05},"color":{"field":"sex","type":"nominal"}}},
   {"data":{"name":"rug"},"transform":[{"filter":"datum.dim == 2 && datum.sex == 'male'"}],
    "mark":{"type":"rule","strokeWidth":0.7,"color":"#c8c8c8"},
    "encoding":{"x":{"field":"x","type":"quantitative"},"y":{"datum":-0.058},"y2":{"datum":-0.09}}},
   {"data":{"values":[{}]},
    "mark":{"type":"rule","color":"#000","strokeWidth":0.8},
    "encoding":{"x":{"datum":-2},"x2":{"datum":2},"y":{"datum":-0.054}}}
  ]}
 ],"spacing":8,"bounds":"flush","resolve":{"scale":{"color":"independent"},"legend":{"color":"independent"}}}
],
"spacing":10,"bounds":"full",
"resolve":{"scale":{"color":"independent"},"legend":{"color":"independent"}}
}
